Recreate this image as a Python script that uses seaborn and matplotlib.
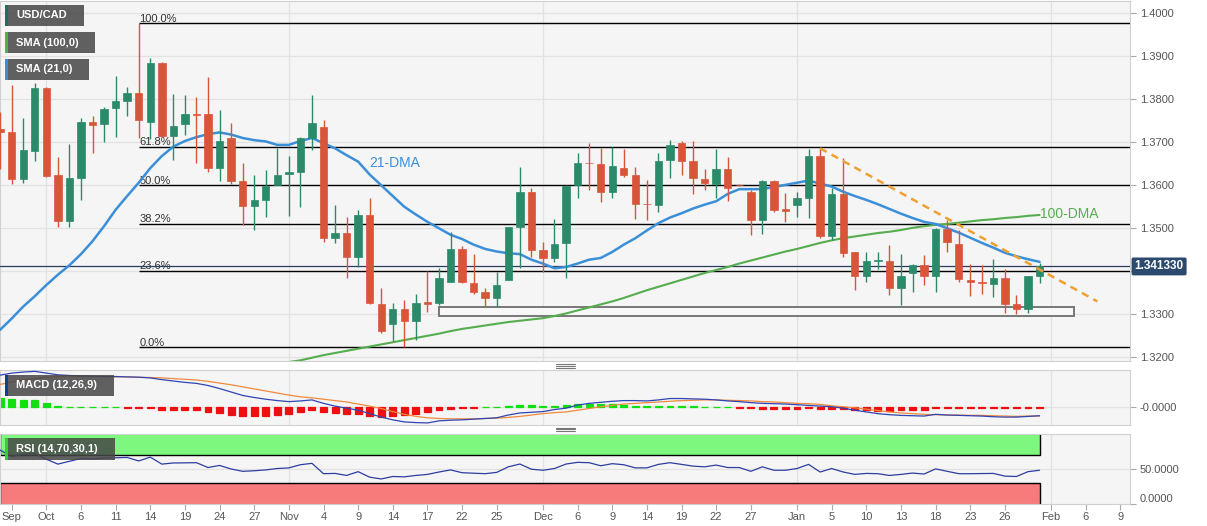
import numpy as np
import pandas as pd
import seaborn as sns
import matplotlib.pyplot as plt
import matplotlib.transforms as mtransforms
from matplotlib.patches import Rectangle
from matplotlib.lines import Line2D

#### DATA ###
START_DAY = "2022-09-27"   # first candle, daily bars Mon-Fri
opens = [1.3732, 1.3723, 1.3614, 1.3680, 1.3827, 1.3624, 1.3517, 1.3617, 1.3748, 1.3742,
         1.3779, 1.3797, 1.3814, 1.3748, 1.3884, 1.3715, 1.3742, 1.3765, 1.3765, 1.3641,
         1.3709, 1.3609, 1.3552, 1.3565, 1.3601, 1.3626, 1.3632, 1.3711, 1.3736, 1.3478,
         1.3490, 1.3433, 1.3531, 1.3324, 1.3277, 1.3312, 1.3285, 1.3328, 1.3326, 1.3376,
         1.3451, 1.3372, 1.3353, 1.3337, 1.3380, 1.3502, 1.3585, 1.3450, 1.3432, 1.3465,
         1.3601, 1.3653, 1.3649, 1.3584, 1.3641, 1.3624, 1.3557, 1.3554, 1.3659, 1.3698,
         1.3657, 1.3615, 1.3603, 1.3638, 1.3601, 1.3584, 1.3519, 1.3611, 1.3545, 1.3554,
         1.3571, 1.3669, 1.3483, 1.3580, 1.3444, 1.3389, 1.3425, 1.3425, 1.3362, 1.3395,
         1.3415, 1.3388, 1.3498, 1.3464, 1.3379, 1.3374, 1.3371, 1.3384, 1.3323, 1.3312,
         1.3389]
highs = [1.3771, 1.3833, 1.3756, 1.3837, 1.3829, 1.3665, 1.3695, 1.3756, 1.3760, 1.3781,
         1.3855, 1.3829, 1.3977, 1.3897, 1.3886, 1.3812, 1.3810, 1.3806, 1.3853, 1.3774,
         1.3746, 1.3651, 1.3625, 1.3636, 1.3686, 1.3667, 1.3713, 1.3810, 1.3751, 1.3554,
         1.3527, 1.3543, 1.3571, 1.3361, 1.3326, 1.3333, 1.3347, 1.3401, 1.3407, 1.3492,
         1.3460, 1.3440, 1.3361, 1.3398, 1.3504, 1.3643, 1.3593, 1.3469, 1.3521, 1.3601,
         1.3674, 1.3699, 1.3687, 1.3689, 1.3684, 1.3643, 1.3612, 1.3674, 1.3705, 1.3703,
         1.3704, 1.3637, 1.3684, 1.3665, 1.3603, 1.3588, 1.3613, 1.3613, 1.3581, 1.3585,
         1.3684, 1.3686, 1.3593, 1.3664, 1.3446, 1.3444, 1.3444, 1.3461, 1.3440, 1.3417,
         1.3438, 1.3500, 1.3519, 1.3496, 1.3416, 1.3415, 1.3428, 1.3405, 1.3345, 1.3390,
         1.3419]
lows = [1.3639, 1.3602, 1.3605, 1.3657, 1.3620, 1.3502, 1.3502, 1.3566, 1.3674, 1.3701,
        1.3713, 1.3760, 1.3709, 1.3708, 1.3712, 1.3659, 1.3717, 1.3651, 1.3632, 1.3609,
        1.3602, 1.3508, 1.3496, 1.3526, 1.3600, 1.3529, 1.3549, 1.3682, 1.3467, 1.3465,
        1.3385, 1.3409, 1.3324, 1.3256, 1.3238, 1.3225, 1.3240, 1.3306, 1.3322, 1.3376,
        1.3372, 1.3347, 1.3318, 1.3316, 1.3380, 1.3407, 1.3434, 1.3399, 1.3422, 1.3384,
        1.3571, 1.3589, 1.3562, 1.3570, 1.3619, 1.3522, 1.3519, 1.3539, 1.3616, 1.3624,
        1.3580, 1.3589, 1.3570, 1.3564, 1.3599, 1.3485, 1.3486, 1.3537, 1.3515, 1.3526,
        1.3523, 1.3477, 1.3473, 1.3434, 1.3357, 1.3374, 1.3405, 1.3345, 1.3322, 1.3351,
        1.3368, 1.3351, 1.3446, 1.3376, 1.3343, 1.3347, 1.3340, 1.3304, 1.3300, 1.3302,
        1.3373]
closes = [1.3723, 1.3614, 1.3681, 1.3827, 1.3622, 1.3517, 1.3617, 1.3748, 1.3740, 1.3777,
          1.3796, 1.3814, 1.3751, 1.3884, 1.3715, 1.3739, 1.3765, 1.3763, 1.3640, 1.3704,
          1.3609, 1.3552, 1.3565, 1.3599, 1.3624, 1.3630, 1.3711, 1.3746, 1.3478, 1.3490,
          1.3433, 1.3531, 1.3326, 1.3261, 1.3312, 1.3285, 1.3326, 1.3325, 1.3384, 1.3451,
          1.3374, 1.3353, 1.3337, 1.3368, 1.3502, 1.3585, 1.3450, 1.3432, 1.3463, 1.3599,
          1.3651, 1.3651, 1.3584, 1.3646, 1.3624, 1.3557, 1.3556, 1.3657, 1.3694, 1.3657,
          1.3616, 1.3605, 1.3638, 1.3593, 1.3600, 1.3519, 1.3611, 1.3543, 1.3541, 1.3571,
          1.3669, 1.3481, 1.3580, 1.3443, 1.3388, 1.3425, 1.3427, 1.3362, 1.3390, 1.3415,
          1.3388, 1.3498, 1.3467, 1.3381, 1.3374, 1.3372, 1.3384, 1.3324, 1.3312, 1.3388,
          1.3413]
sma21 = [1.3264, 1.3290, 1.3318, 1.3342, 1.3368, 1.3392, 1.3414, 1.3440, 1.3470, 1.3505,
         1.3543, 1.3575, 1.3606, 1.3640, 1.3668, 1.3690, 1.3703, 1.3712, 1.3719, 1.3723,
         1.3718, 1.3710, 1.3705, 1.3702, 1.3694, 1.3694, 1.3703, 1.3710, 1.3698, 1.3686,
         1.3670, 1.3655, 1.3625, 1.3600, 1.3575, 1.3550, 1.3532, 1.3515, 1.3500, 1.3485,
         1.3475, 1.3462, 1.3452, 1.3446, 1.3442, 1.3440, 1.3427, 1.3418, 1.3407, 1.3410,
         1.3418, 1.3427, 1.3431, 1.3445, 1.3462, 1.3477, 1.3495, 1.3512, 1.3525, 1.3535,
         1.3546, 1.3555, 1.3563, 1.3580, 1.3591, 1.3591, 1.3591, 1.3596, 1.3601, 1.3606,
         1.3611, 1.3604, 1.3597, 1.3585, 1.3575, 1.3566, 1.3556, 1.3545, 1.3534, 1.3524,
         1.3515, 1.3510, 1.3500, 1.3490, 1.3478, 1.3466, 1.3455, 1.3443, 1.3435, 1.3428,
         1.3422]
sma100 = [np.nan] * 24 + [
    1.3185, 1.3189, 1.3193, 1.3199, 1.3205, 1.3210, 1.3215, 1.3220, 1.3225, 1.3230,
    1.3235, 1.3240, 1.3245, 1.3250, 1.3255, 1.3261, 1.3266, 1.3270, 1.3274, 1.3278,
    1.3282, 1.3285, 1.3288, 1.3291, 1.3296, 1.3302, 1.3309, 1.3316, 1.3323, 1.3330,
    1.3338, 1.3347, 1.3356, 1.3364, 1.3372, 1.3380, 1.3388, 1.3396, 1.3403, 1.3410,
    1.3418, 1.3425, 1.3432, 1.3439, 1.3446, 1.3452, 1.3459, 1.3466, 1.3472, 1.3477,
    1.3481, 1.3485, 1.3489, 1.3492, 1.3496, 1.3501, 1.3505, 1.3508, 1.3510, 1.3513,
    1.3516, 1.3519, 1.3521, 1.3524, 1.3526, 1.3529, 1.3531]
macd = [0.0094, 0.0100, 0.0103, 0.0105, 0.0100, 0.0095, 0.0093, 0.0092, 0.0091, 0.0090,
        0.0090, 0.0089, 0.0088, 0.0086, 0.0081, 0.0077, 0.0073, 0.0070, 0.0064, 0.0055,
        0.0045, 0.0035, 0.0029, 0.0024, 0.0020, 0.0017, 0.0019, 0.0022, 0.0012, 0.0004,
        -0.0002, -0.0008, -0.0018, -0.0028, -0.0036, -0.0042, -0.0044, -0.0045, -0.0039, -0.0037,
        -0.0036, -0.0034, -0.0032, -0.0030, -0.0022, -0.0016, -0.0014, -0.0012, -0.0006, -0.0002,
        0.0007, 0.0012, 0.0015, 0.0018, 0.0020, 0.0020, 0.0019, 0.0022, 0.0026, 0.0026,
        0.0025, 0.0024, 0.0022, 0.0019, 0.0017, 0.0014, 0.0012, 0.0011, 0.0010, 0.0008,
        0.0006, 0.0004, 0.0002, -0.0002, -0.0008, -0.0013, -0.0018, -0.0021, -0.0023, -0.0024,
        -0.0025, -0.0020, -0.0022, -0.0023, -0.0024, -0.0025, -0.0027, -0.0028, -0.0028, -0.0026,
        -0.0024]
signal = [0.0067, 0.0074, 0.0080, 0.0084, 0.0088, 0.0090, 0.0091, 0.0091, 0.0090, 0.0090,
          0.0089, 0.0089, 0.0088, 0.0087, 0.0086, 0.0084, 0.0082, 0.0080, 0.0076, 0.0071,
          0.0066, 0.0060, 0.0054, 0.0048, 0.0042, 0.0036, 0.0031, 0.0028, 0.0024, 0.0020,
          0.0016, 0.0010, 0.0004, -0.0003, -0.0012, -0.0020, -0.0026, -0.0030, -0.0032, -0.0033,
          -0.0033, -0.0033, -0.0032, -0.0031, -0.0029, -0.0026, -0.0022, -0.0018, -0.0015, -0.0013,
          -0.0008, -0.0003, 0.0002, 0.0006, 0.0010, 0.0012, 0.0014, 0.0016, 0.0018, 0.0020,
          0.0021, 0.0022, 0.0022, 0.0021, 0.0020, 0.0019, 0.0017, 0.0016, 0.0014, 0.0012,
          0.0011, 0.0009, 0.0005, 0.0002, -0.0001, -0.0005, -0.0009, -0.0013, -0.0016, -0.0018,
          -0.0020, -0.0021, -0.0022, -0.0022, -0.0023, -0.0023, -0.0024, -0.0025, -0.0026, -0.0025,
          -0.0025]
hist = [0.0027, 0.0024, 0.0022, 0.0022, 0.0012, 0.0004, 0.0001, 0.0001, 0.0001, 0.0001,
        0.00005, -0.00005, -0.0001, -0.0001, -0.0007, -0.0007, -0.0008, -0.0008, -0.0014, -0.0016,
        -0.0022, -0.0024, -0.0025, -0.0024, -0.0022, -0.0018, -0.0012, -0.0006, -0.0012, -0.0016,
        -0.0020, -0.0018, -0.0024, -0.0028, -0.0026, -0.0022, -0.0020, -0.0014, -0.0008, -0.0004,
        -0.0002, -0.0001, 0.00005, 0.0001, 0.0005, 0.0008, 0.0007, 0.0005, 0.0004, 0.0007,
        0.0010, 0.0010, 0.0009, 0.0010, 0.0008, 0.0005, 0.0004, 0.0005, 0.0005, 0.0004,
        0.0003, 0.0002, 0.0001, 0.00005, -0.00005, -0.0002, -0.0003, -0.0003, -0.0003, -0.0003,
        -0.0002, -0.0003, -0.0003, -0.0005, -0.0007, -0.0008, -0.0009, -0.0009, -0.0008, -0.0007,
        -0.0006, -0.0002, -0.0002, -0.0002, -0.0002, -0.0002, -0.0002, -0.0002, -0.0002, -0.0002,
        -0.0001]
rsi = [77.0, 68.0, 71.0, 72.0, 64.0, 57.0, 61.0, 65.0, 64.5, 65.5,
       66.0, 66.5, 61.5, 67.0, 57.0, 58.6, 58.8, 59.0, 52.1, 55.1,
       50.0, 46.7, 47.5, 48.7, 50.7, 51.6, 56.1, 58.1, 43.3, 43.7,
       40.8, 46.2, 38.3, 35.8, 39.3, 38.8, 40.8, 42.3, 45.7, 48.7,
       44.7, 44.0, 43.3, 45.2, 53.1, 57.1, 49.7, 48.2, 50.7, 57.1,
       59.5, 59.0, 54.6, 57.6, 56.1, 51.6, 51.6, 56.6, 59.0, 56.6,
       54.1, 53.1, 55.6, 52.1, 52.1, 46.7, 53.1, 48.2, 48.2, 50.7,
       56.6, 45.7, 50.7, 45.7, 42.3, 43.7, 43.3, 40.8, 42.3, 44.2,
       42.8, 50.2, 46.7, 43.3, 43.3, 43.5, 43.7, 39.8, 39.3, 46.2,
       48.2]

last_price = 1.34133
fib_high, fib_low = 1.3977, 1.3223
fib_start = "2022-10-13"
fib_ratios = [1.0, 0.618, 0.5, 0.382, 0.236, 0.0]
trend_days = ["2023-01-04", "2023-02-07"]
trend_prices = [1.3686, 1.3330]
zone_days = ["2022-11-18", "2023-02-03"]
zone_prices = [1.3296, 1.3316]

tick_dates = ["2022-09-28", "2022-10-03", "2022-10-06", "2022-10-11", "2022-10-14", "2022-10-19",
              "2022-10-24", "2022-10-27", "2022-11-01", "2022-11-04", "2022-11-09", "2022-11-14",
              "2022-11-17", "2022-11-22", "2022-11-25", "2022-12-01", "2022-12-06", "2022-12-09",
              "2022-12-14", "2022-12-19", "2022-12-22", "2022-12-27", "2023-01-02", "2023-01-05",
              "2023-01-10", "2023-01-13", "2023-01-18", "2023-01-23", "2023-01-26", "2023-02-01",
              "2023-02-06", "2023-02-09"]
tick_labels = ["Sep", "Oct", "6", "11", "14", "19", "24", "27", "Nov", "4", "9", "14", "17", "22",
               "25", "Dec", "6", "9", "14", "19", "22", "27", "Jan", "5", "10", "13", "18", "23",
               "26", "Feb", "6", "9"]
month_starts = ["2022-10-03", "2022-11-01", "2022-12-01", "2023-01-02", "2023-02-01"]

### LAYOUT ###
W, H = 1207, 526
GREEN, RED = "#2a8a6a", "#d8553a"
BLUE21, GREEN100 = "#3b8fd8", "#56ad4f"
PANEL_BG, GRID = "#f5f5f5", "#e2e2e2"

days = pd.bdate_range(START_DAY, "2023-02-10")
def day_pos(d):
    return days.get_loc(pd.Timestamp(d))

x = np.arange(len(closes))
X_LEFT, X_RIGHT = -0.01, 97.83


def frac(x0, y0, x1, y1):
    # pixel box (top-left origin) -> figure fraction rect
    return [x0 / W, 1 - y1 / H, (x1 - x0) / W, (y1 - y0) / H]


sns.set_theme(style="white")
plt.rcParams["font.family"] = ["Liberation Sans", "DejaVu Sans"]

fig = plt.figure(figsize=(W / 100, H / 100), dpi=100)
fig.patch.set_facecolor("white")
ax = fig.add_axes(frac(0, 1, 1130, 361))
ax_m = fig.add_axes(frac(0, 370, 1130, 425), sharex=ax)
ax_r = fig.add_axes(frac(0, 434, 1130, 504), sharex=ax)

for a in (ax, ax_m, ax_r):
    a.set_facecolor(PANEL_BG)
    for s in a.spines.values():
        s.set_color("#d0d0d0")
        s.set_linewidth(0.8)
    a.yaxis.tick_right()
    a.tick_params(axis="y", right=True, left=False, length=4, width=0.8, color="#aaaaaa",
                  labelsize=8, labelcolor="#555555", pad=3)
    for d in month_starts:
        a.axvline(day_pos(d), color=GRID, lw=0.9, zorder=0)
ax.set_xlim(X_LEFT, X_RIGHT)

### MAIN PANEL ###
ax.set_ylim(1.31914, 1.40286)
yt = np.arange(1.32, 1.40001, 0.01)
ax.set_yticks(yt)
# the 1.3400 label sits under the last-price tag, as on the source chart
ax.set_yticklabels(["" if abs(v - 1.34) < 1e-6 else f"{v:.4f}" for v in yt])
for v in yt:
    ax.axhline(v, color=GRID, lw=0.9, zorder=0)
ax.tick_params(axis="x", bottom=False, labelbottom=False)

# fibonacci retracement
f0 = day_pos(fib_start)
for r in fib_ratios:
    lvl = fib_low + r * (fib_high - fib_low)
    ax.hlines(lvl, f0, X_RIGHT, color="black", lw=1.0, zorder=3)
    ax.text(f0 + 0.05, lvl - 0.0001, f"{r * 100:.1f}%", fontsize=8, color="#333333",
            ha="left", va="bottom", zorder=3)

# support zone
z0, z1 = day_pos(zone_days[0]), day_pos(zone_days[1])
ax.add_patch(Rectangle((z0, zone_prices[0]), z1 - z0, zone_prices[1] - zone_prices[0],
                       fc="#f8f8f8", ec="#6a6a6a", lw=1.4, alpha=0.9, zorder=3))

# current price line
ax.axhline(last_price, color="#2b3d5e", lw=0.9, zorder=3)

# moving averages
sns.lineplot(x=x, y=sma100, ax=ax, color=GREEN100, linewidth=1.5, zorder=4)
sns.lineplot(x=x, y=sma21, ax=ax, color=BLUE21, linewidth=1.8, zorder=4)

# candles
colors = [GREEN if c >= o else RED for o, c in zip(opens, closes)]
ax.vlines(x, lows, highs, colors=colors, lw=1.0, zorder=5)
body_lo = np.minimum(opens, closes)
body_h = np.maximum(np.abs(np.array(closes) - np.array(opens)), 0.00005)
ax.bar(x, body_h, bottom=body_lo, width=0.64, color=colors, edgecolor=colors,
       linewidth=0.5, zorder=6)

# falling trend line
ax.plot([day_pos(d) for d in trend_days], trend_prices, color="#f0a030", lw=1.8,
        dashes=(3, 2.2), zorder=7)

ax.text(32.0, 1.3652, "21-DMA", color=BLUE21, fontsize=10, ha="left", va="center", zorder=8)
ax.text(90.05, 1.3534, "100-DMA", color=GREEN100, fontsize=10, ha="left", va="center", zorder=8)

blend = mtransforms.blended_transform_factory(ax.transAxes, ax.transData)
ax.text(1.004, last_price - 0.0002, f"{last_price:.6f}", transform=blend, ha="left", va="center",
        color="white", fontsize=8.5, fontweight="bold", zorder=20, clip_on=False,
        bbox=dict(boxstyle="round,pad=0.25,rounding_size=0.15", fc="#2c4a6e", ec="none"))
ax.set_xlabel("")
ax.set_ylabel("")

### MACD PANEL ###
ax_m.set_ylim(-0.0051, 0.0109)
ax_m.axhline(0, color=GRID, lw=0.9, zorder=0)
hcol = ["#10e010" if h >= 0 else "#ee1010" for h in hist]
ax_m.bar(x, hist, width=0.6, color=hcol, edgecolor=hcol, linewidth=0.9, zorder=2)
sns.lineplot(x=x, y=signal, ax=ax_m, color="#f08a3c", linewidth=0.9, zorder=3)
sns.lineplot(x=x, y=macd, ax=ax_m, color="#2f44b5", linewidth=0.9, zorder=4)
ax_m.set_yticks([0])
ax_m.set_yticklabels(["-0.0000"])
ax_m.tick_params(axis="x", bottom=False, labelbottom=False)
ax_m.set_xlabel("")
ax_m.set_ylabel("")

### RSI PANEL ###
ax_r.set_ylim(0, 100)
ax_r.axhline(50, color=GRID, lw=0.9, zorder=0)
last = len(rsi) - 1
ax_r.add_patch(Rectangle((X_LEFT, 70), last - X_LEFT, 32, fc="#7ef77e", ec="black", lw=1.0, zorder=1))
ax_r.add_patch(Rectangle((X_LEFT, -2), last - X_LEFT, 32, fc="#f77b7b", ec="black", lw=1.0, zorder=1))
sns.lineplot(x=x, y=rsi, ax=ax_r, color="#2c3ea0", linewidth=0.9, zorder=3)
ax_r.set_yticks([0, 50])
ax_r.set_yticklabels(["0.0000", "50.0000"])
ax_r.get_yticklabels()[0].set_va("bottom")
ax_r.set_xticks([day_pos(d) for d in tick_dates])
ax_r.set_xticklabels(tick_labels)
ax_r.tick_params(axis="x", bottom=True, length=4, width=0.8, color="#aaaaaa", labelsize=8,
                 labelcolor="#555555", pad=2)
ax_r.set_xlabel("")
ax_r.set_ylabel("")
ax_r.set_xlim(X_LEFT, X_RIGHT)


### LEGEND TAGS ###
def tag(x0, y0, x1, y1, stripe, text):
    fig.add_artist(Rectangle((x0 / W, 1 - y1 / H), (x1 - x0) / W, (y1 - y0) / H,
                             transform=fig.transFigure, fc="#474747", ec="none", alpha=0.86, zorder=20))
    fig.add_artist(Rectangle((x0 / W, 1 - y1 / H), 2.5 / W, (y1 - y0) / H,
                             transform=fig.transFigure, fc=stripe, ec="none", zorder=21))
    fig.text((x0 + 11) / W, 1 - (y0 + y1) / 2 / H, text, color="white", fontsize=8,
             fontweight="bold", ha="left", va="center", zorder=22)


tag(5, 5, 84, 26, "#1f6f5f", "USD/CAD")
tag(5, 32, 95, 53, GREEN100, "SMA (100,0)")
tag(5, 59, 89, 80, BLUE21, "SMA (21,0)")
tag(5, 375, 114, 396, "#1a3a9a", "MACD (12,26,9)")
tag(5, 438, 115, 460, "#3cc83c", "RSI (14,70,30,1)")

# panel grips
for yy in (364, 427.5):
    for k in range(3):
        fig.add_artist(Line2D([556 / W, 575 / W], [1 - (yy + 1.8 * k) / H] * 2,
                              transform=fig.transFigure, color="#777777", lw=0.8))

fig.savefig("out.png", dpi=100)
